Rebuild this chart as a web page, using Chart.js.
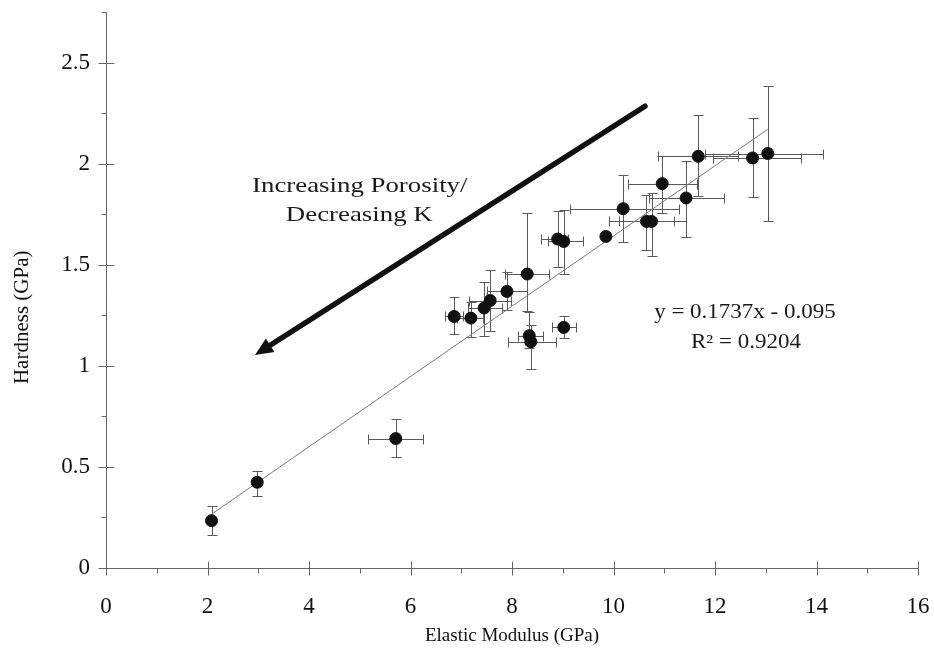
<!DOCTYPE html>
<html><head><meta charset="utf-8">
<script src="https://cdn.jsdelivr.net/npm/chart.js@4.4.0/dist/chart.umd.min.js"></script>
<style>html,body{margin:0;padding:0;background:#fff}#wrap{width:934px;height:656px}</style>
</head><body><div id="wrap"><canvas id="c" width="934" height="656"></canvas></div>
<script>
// Elastic modulus (GPa) and hardness (GPa) with error ranges
const modulus      = [2.08, 2.98, 5.71, 6.86, 7.19, 7.45, 7.57, 7.90, 8.30, 8.34, 8.37, 8.90, 9.02, 9.02, 9.85, 10.19, 10.65, 10.75, 10.96, 11.43, 11.67, 12.74, 13.04];
const hardness     = [0.234, 0.424, 0.640, 1.244, 1.236, 1.286, 1.323, 1.368, 1.454, 1.149, 1.119, 1.627, 1.615, 1.190, 1.640, 1.777, 1.714, 1.714, 1.901, 1.830, 2.036, 2.028, 2.050];
const modulusLow   = [null, null, 5.16, 6.68, 6.91, 7.13, 7.16, 7.50, 7.86, 8.12, 7.92, 8.57, 8.70, 8.79, null, 9.14, 9.92, 10.10, 10.29, 10.69, 10.88, 11.97, 11.80];
const modulusHigh  = [null, null, 6.25, 7.03, 7.43, 7.80, 7.99, 8.29, 8.72, 8.62, 8.86, 9.11, 9.40, 9.27, null, 11.30, 11.43, 11.20, 11.65, 12.18, 12.45, 13.69, 14.12];
const hardnessLow  = [0.163, 0.356, 0.551, 1.157, 1.145, 1.149, 1.170, 1.277, 1.270, 1.090, 0.984, 1.489, 1.455, 1.140, null, 1.610, 1.571, 1.545, 1.756, 1.637, 1.842, 1.833, 1.718];
const hardnessHigh = [0.307, 0.482, 0.736, 1.340, 1.318, 1.414, 1.475, 1.462, 1.756, 1.264, 1.200, 1.764, 1.769, 1.244, null, 1.942, 1.847, 1.855, 2.036, 2.015, 2.243, 2.226, 2.386];
// linear fit y = 0.1737x - 0.095 (endpoints as drawn)
const trendModulus  = [2.08, 13.04];
const trendHardness = [0.266, 2.170];
const xMajorTicks = [0, 2, 4, 6, 8, 10, 12, 14, 16];
const xMinorTicks = [1, 3, 5, 7, 9, 11, 13, 15];
const yMajorTicks = [0, 0.5, 1, 1.5, 2, 2.5];
const yMinorTicks = [0.25, 0.75, 1.25, 1.75, 2.25, 2.75];

const SERIF = "'Liberation Serif', 'Times New Roman', serif";

const points = modulus.map((m, i) => ({x: m, y: hardness[i]}));
const trend = trendModulus.map((m, i) => ({x: m, y: trendHardness[i]}));

const errorBars = {
  id: 'errorBars',
  beforeDatasetsDraw(chart) {
    const {ctx, scales: {x, y}} = chart;
    ctx.save();
    ctx.strokeStyle = '#5a5a5a';
    ctx.lineWidth = 1;
    const cap = 5;
    for (let i = 0; i < modulus.length; i++) {
      const px = Math.round(x.getPixelForValue(modulus[i])) + 0.5;
      const py = Math.round(y.getPixelForValue(hardness[i])) + 0.5;
      ctx.beginPath();
      if (hardnessLow[i] !== null) {
        const y1 = Math.round(y.getPixelForValue(hardnessLow[i])) + 0.5;
        const y2 = Math.round(y.getPixelForValue(hardnessHigh[i])) + 0.5;
        ctx.moveTo(px, y1); ctx.lineTo(px, y2);
        ctx.moveTo(px - cap, y1); ctx.lineTo(px + cap, y1);
        ctx.moveTo(px - cap, y2); ctx.lineTo(px + cap, y2);
      }
      if (modulusLow[i] !== null) {
        const x1 = Math.round(x.getPixelForValue(modulusLow[i])) + 0.5;
        const x2 = Math.round(x.getPixelForValue(modulusHigh[i])) + 0.5;
        ctx.moveTo(x1, py); ctx.lineTo(x2, py);
        ctx.moveTo(x1, py - cap); ctx.lineTo(x1, py + cap);
        ctx.moveTo(x2, py - cap); ctx.lineTo(x2, py + cap);
      }
      ctx.stroke();
    }
    ctx.restore();
  }
};

const axisTicks = {
  id: 'axisTicks',
  afterDraw(chart) {
    const {ctx, scales: {x, y}} = chart;
    const x0 = Math.round(x.getPixelForValue(0)) + 0.5;
    const y0 = Math.round(y.getPixelForValue(0)) + 0.5;
    ctx.save();
    ctx.strokeStyle = '#666';
    ctx.lineWidth = 1;
    ctx.beginPath();
    xMajorTicks.forEach(v => { const p = Math.round(x.getPixelForValue(v)) + 0.5; ctx.moveTo(p, y0 - 7); ctx.lineTo(p, y0 + 7); });
    xMinorTicks.forEach(v => { const p = Math.round(x.getPixelForValue(v)) + 0.5; ctx.moveTo(p, y0); ctx.lineTo(p, y0 + 5); });
    yMajorTicks.forEach(v => { const p = Math.round(y.getPixelForValue(v)) + 0.5; ctx.moveTo(x0 - 8, p); ctx.lineTo(x0 + 8, p); });
    yMinorTicks.forEach(v => { const p = Math.round(y.getPixelForValue(v)) + 0.5; ctx.moveTo(x0 - 5, p); ctx.lineTo(x0, p); });
    ctx.stroke();
    // y-axis title (placed slightly below the axis centre, as in the original)
    ctx.fillStyle = '#111';
    ctx.font = '21px ' + SERIF;
    ctx.textAlign = 'center';
    ctx.textBaseline = 'middle';
    ctx.translate(22, y.getPixelForValue(1.24));
    ctx.rotate(-Math.PI / 2);
    ctx.fillText('Hardness (GPa)', 0, 0);
    ctx.restore();
  }
};

const annotations = {
  id: 'annotations',
  afterDatasetsDraw(chart) {
    const {ctx, scales: {x, y}} = chart;
    ctx.save();
    // arrow
    const sx = x.getPixelForValue(10.62), sy = y.getPixelForValue(2.284);
    const tx = x.getPixelForValue(2.936), ty = y.getPixelForValue(1.054);
    const ang = Math.atan2(ty - sy, tx - sx);
    const headLen = 18, headW = 8;
    const bx = tx - headLen * Math.cos(ang), by = ty - headLen * Math.sin(ang);
    ctx.strokeStyle = '#111';
    ctx.fillStyle = '#111';
    ctx.lineWidth = 5.5;
    ctx.lineCap = 'round';
    ctx.beginPath(); ctx.moveTo(sx, sy); ctx.lineTo(bx, by); ctx.stroke();
    ctx.beginPath();
    ctx.moveTo(tx, ty);
    ctx.lineTo(bx + headW * Math.sin(ang), by - headW * Math.cos(ang));
    ctx.lineTo(bx - headW * Math.sin(ang), by + headW * Math.cos(ang));
    ctx.closePath(); ctx.fill();
    // texts
    ctx.fillStyle = '#1a1a1a';
    ctx.textAlign = 'center';
    ctx.textBaseline = 'middle';
    const drawText = (t, vx, vy, size, sxScale) => {
      const px = x.getPixelForValue(vx), py = y.getPixelForValue(vy);
      ctx.save();
      ctx.translate(px, py);
      ctx.scale(sxScale, 1);
      ctx.font = size + 'px ' + SERIF;
      ctx.fillText(t, 0, 0);
      ctx.restore();
    };
    drawText('Increasing Porosity/', 5.0, 1.89, 22, 1.22);
    drawText('Decreasing K', 4.99, 1.743, 22, 1.22);
    drawText('y = 0.1737x - 0.095', 12.59, 1.262, 20, 1.15);
    drawText('R² = 0.9204', 12.61, 1.114, 20, 1.15);
    ctx.restore();
  }
};

new Chart(document.getElementById('c'), {
  data: {
    datasets: [
      {type: 'scatter', data: points, backgroundColor: '#111', borderColor: '#111', pointRadius: 6, pointHoverRadius: 6, order: 0},
      {type: 'line', data: trend, borderColor: '#7a7a7a', borderWidth: 1, pointRadius: 0, fill: false, order: 1}
    ]
  },
  options: {
    responsive: false,
    animation: false,
    devicePixelRatio: 1,
    layout: {padding: {left: 0, right: 16, top: 12, bottom: 0}},
    plugins: {legend: {display: false}, tooltip: {enabled: false}},
    scales: {
      x: {
        type: 'linear', min: 0, max: 16,
        ticks: {stepSize: 2, font: {family: SERIF, size: 23, lineHeight: 1}, color: '#111', padding: 0, maxRotation: 0, callback: v => String(v)},
        grid: {display: true, drawOnChartArea: false, drawTicks: true, tickLength: 27, color: 'transparent'},
        border: {display: true, color: '#666', width: 1},
        title: {display: true, text: 'Elastic Modulus (GPa)', font: {family: SERIF, size: 19}, color: '#111', padding: {top: 0, bottom: 9}},
        afterFit(s) { s.height = 88; }
      },
      y: {
        type: 'linear', min: 0, max: 2.75,
        ticks: {stepSize: 0.5, includeBounds: false, font: {family: SERIF, size: 23, lineHeight: 1}, color: '#111', padding: 0, callback: v => String(v)},
        grid: {display: true, drawOnChartArea: false, drawTicks: true, tickLength: 16, color: 'transparent'},
        border: {display: true, color: '#666', width: 1},
        title: {display: false},
        afterFit(s) { s.width = 106; }
      }
    }
  },
  plugins: [errorBars, axisTicks, annotations]
});
</script>
</body></html>
